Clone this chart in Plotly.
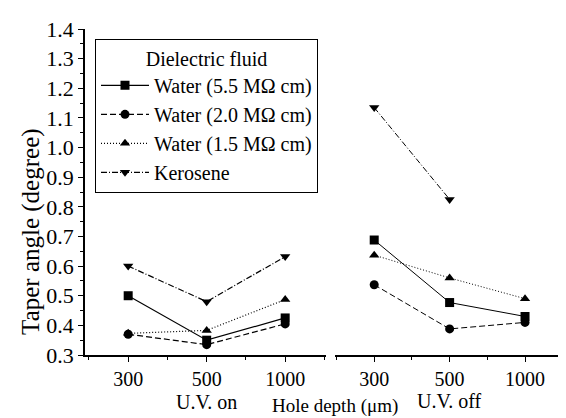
import plotly.graph_objects as go

depths = ["300", "500", "1000"]
series_names = ["Water (5.5 MΩ cm)", "Water (2.0 MΩ cm)", "Water (1.5 MΩ cm)", "Kerosene"]

uv_on = {
    "Water (5.5 MΩ cm)": [0.50, 0.35, 0.425],
    "Water (2.0 MΩ cm)": [0.37, 0.335, 0.405],
    "Water (1.5 MΩ cm)": [0.373, 0.383, 0.487],
    "Kerosene": [0.60, 0.48, 0.632],
}
uv_off = {
    "Water (5.5 MΩ cm)": [0.688, 0.477, 0.43],
    "Water (2.0 MΩ cm)": [0.537, 0.388, 0.41],
    "Water (1.5 MΩ cm)": [0.637, 0.56, 0.49],
    "Kerosene": [1.135, 0.825, None],
}
y_ticks = [0.3, 0.4, 0.5, 0.6, 0.7, 0.8, 0.9, 1.0, 1.1, 1.2, 1.3, 1.4]

styles = {
    "Water (5.5 MΩ cm)": dict(dash="solid", symbol="square"),
    "Water (2.0 MΩ cm)": dict(dash="6px,3px", symbol="circle"),
    "Water (1.5 MΩ cm)": dict(dash="1px,2px", symbol="triangle-up"),
    "Kerosene": dict(dash="6px,2px,1px,2px", symbol="triangle-down"),
}

FONT = "Liberation Serif, Times New Roman, serif"
L, R, T, B = 77, 9, 16, 71
W, H = 566, 418
PW, PH = W - L - R, H - T - B


def px_x(p):
    return (p - L) / PW


def px_y(p):
    return (H - B - p) / PH


fig = go.Figure()
xs = list(range(len(depths)))
for name in series_names:
    st = styles[name]
    fig.add_trace(go.Scatter(
        x=xs, y=uv_on[name], xaxis="x", yaxis="y", name=name, mode="lines+markers",
        line=dict(color="black", width=1.2, dash=st["dash"]),
        marker=dict(symbol=st["symbol"], size=9, color="black"),
        legendgroup=name, showlegend=True))
    fig.add_trace(go.Scatter(
        x=xs, y=uv_off[name], xaxis="x2", yaxis="y2", name=name, mode="lines+markers",
        line=dict(color="black", width=1.0, dash=st["dash"]),
        marker=dict(symbol=st["symbol"], size=9, color="black"),
        legendgroup=name, showlegend=False, connectgaps=False))

axis_common = dict(
    tickmode="array", tickvals=xs, ticktext=depths,
    showline=True, linecolor="black", linewidth=1.5,
    ticks="outside", ticklen=5, tickcolor="black", tickwidth=1,
    minor=dict(ticks="outside", ticklen=3, dtick=0.5, tick0=0, tickcolor="black"),
    showgrid=False, zeroline=False,
    tickfont=dict(family=FONT, size=20, color="black"),
)

fig.update_layout(
    width=W, height=H,
    margin=dict(l=L, r=R, t=T, b=B),
    paper_bgcolor="white", plot_bgcolor="white",
    font=dict(family=FONT, size=20, color="black"),
    xaxis=dict(domain=[0, px_x(318)], range=[-0.55, 2.52], anchor="y", **axis_common),
    xaxis2=dict(domain=[px_x(327), 1], range=[-0.52, 2.53], anchor="y2", **axis_common),
    yaxis=dict(
        range=[0.3, 1.4], tickmode="array", tickvals=y_ticks,
        ticktext=[f"{v:.1f}" for v in y_ticks],
        showline=True, linecolor="black", linewidth=1.5,
        ticks="outside", ticklen=5, tickcolor="black",
        minor=dict(ticks="outside", ticklen=3, dtick=0.05, tick0=0.3, tickcolor="black"),
        showgrid=False, zeroline=False,
        tickfont=dict(family=FONT, size=22, color="black"),
    ),
    yaxis2=dict(range=[0.3, 1.4], anchor="x2", matches="y", showline=False,
                showticklabels=False, ticks="", showgrid=False, zeroline=False),
    legend=dict(
        x=px_x(87), y=px_y(26), xanchor="left", yanchor="top",
        bordercolor="black", borderwidth=1, bgcolor="white",
        font=dict(family=FONT, size=20, color="black"),
        title=dict(text="Dielectric fluid", side="top center",
                   font=dict(family=FONT, size=20)),
        tracegroupgap=0, itemwidth=48,
    ),
    showlegend=True,
    annotations=[
        dict(text="Taper angle (degree)", x=px_x(23), xref="paper",
             y=px_y(222), yref="paper", showarrow=False, textangle=-90,
             xanchor="center", yanchor="middle", font=dict(family=FONT, size=25)),
        dict(text="U.V. on", x=1, xref="x", y=px_y(395), yref="paper", showarrow=False,
             yanchor="middle", font=dict(family=FONT, size=20)),
        dict(text="U.V. off", x=1, xref="x2", y=px_y(394), yref="paper", showarrow=False,
             yanchor="middle", font=dict(family=FONT, size=20)),
        dict(text="Hole depth (μm)", x=px_x(327), xref="paper", y=px_y(399), yref="paper",
             showarrow=False, yanchor="middle", font=dict(family=FONT, size=19)),
    ],
)

fig.write_html("out.html")
